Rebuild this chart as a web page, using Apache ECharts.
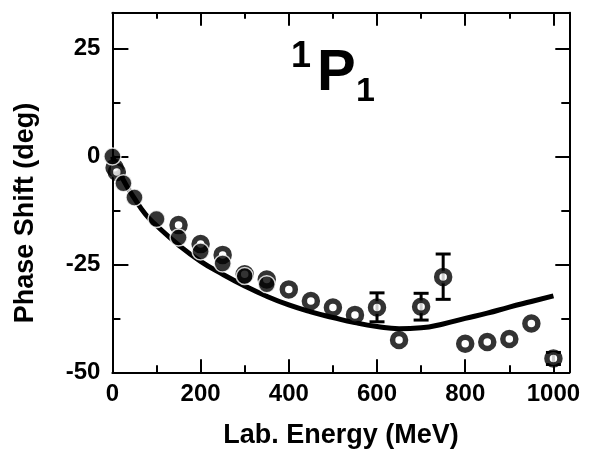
<!DOCTYPE html>
<html>
<head>
<meta charset="utf-8">
<script src="https://cdn.jsdelivr.net/npm/echarts@6/dist/echarts.min.js"></script>
<style>
html,body{margin:0;padding:0;background:#fff;}
#chart{width:591px;height:454px;}
</style>
</head>
<body>
<div id="chart"></div>
<script>
// ---- data ----
var xTickLabels = ['0','200','400','600','800','1000'];
var yTickLabels = ['-50','-25','0','25'];

// theory curve
var curveX = [0, 25, 50, 75, 100, 150, 200, 250, 300, 350, 400, 450, 500, 550, 600, 650, 700, 750, 800, 850, 900, 950, 1000];
var curveY = [0, -5.5, -9.7, -13.4, -16, -20.5, -24.3, -27.3, -30, -32.4, -34.4, -36, -37.3, -38.5, -39.4, -39.9, -39.7, -38.8, -37.5, -36.3, -34.9, -33.6, -32.3];

// filled circles
var filledX = [0, 25, 50, 100, 150, 200, 250, 300, 350];
var filledY = [0, -6.2, -9.5, -14.5, -18.8, -22, -24.8, -27.7, -29.6];

// open circles
var openX = [5, 10, 150, 200, 250, 300, 350, 400, 450, 500, 550, 600, 650, 700, 750, 800, 850, 900, 950, 1000];
var openY = [-2.6, -3.6, -15.9, -20.3, -22.8, -27.3, -28.5, -30.8, -33.5, -35, -36.7, -35, -42.5, -34.8, -27.9, -43.4, -43, -42.3, -38.7, -46.8];

// error bars on open circles
var errX = [600, 700, 750, 1000];
var errLow = [-38.3, -37.9, -33.1, -48.2];
var errHigh = [-31.6, -31.7, -22.6, -45.4];

var FONT = '"Liberation Sans", Arial, Helvetica, sans-serif';

function zip(a, b) { return a.map(function (v, i) { return [v, b[i]]; }); }

var chart = echarts.init(document.getElementById('chart'), null, {renderer: 'canvas'});

var tickCommon = {color: '#000', width: 2};
var labelStyle = {color: '#000', fontSize: 24, fontWeight: 'bold', fontFamily: FONT};

var option = {
  backgroundColor: '#fff',
  animation: false,
  grid: {left: 112.4, right: 21.7, top: 12.7, bottom: 81.7, containLabel: false},
  xAxis: [{
    type: 'value', position: 'bottom', min: 0, max: 1036, interval: 200,
    axisLine: {show: true, onZero: false, lineStyle: tickCommon},
    axisTick: {show: true, inside: true, length: 13, lineStyle: tickCommon},
    minorTick: {show: true, splitNumber: 2, length: 7, lineStyle: tickCommon},
    splitLine: {show: false},
    axisLabel: Object.assign({margin: 10, showMaxLabel: false,
      formatter: function (v) { var s = String(v); return xTickLabels.indexOf(s) >= 0 ? s : ''; }}, labelStyle)
  }, {
    type: 'value', position: 'top', min: 0, max: 1036, interval: 200,
    axisLine: {show: true, onZero: false, lineStyle: tickCommon},
    axisTick: {show: true, inside: true, length: 13, lineStyle: tickCommon},
    minorTick: {show: true, splitNumber: 2, length: 6, lineStyle: tickCommon},
    splitLine: {show: false},
    axisLabel: {show: false}
  }],
  yAxis: [{
    type: 'value', position: 'left', min: -50, max: 33.3, interval: 25,
    axisLine: {show: true, onZero: false, lineStyle: tickCommon},
    axisTick: {show: true, inside: true, length: 16, lineStyle: tickCommon},
    minorTick: {show: true, splitNumber: 2, length: 8, lineStyle: tickCommon},
    splitLine: {show: false},
    axisLabel: Object.assign({margin: 12, showMaxLabel: false,
      formatter: function (v) { var s = String(v); return yTickLabels.indexOf(s) >= 0 ? s : ''; }}, labelStyle)
  }, {
    type: 'value', position: 'right', min: -50, max: 33.3, interval: 25,
    axisLine: {show: true, onZero: false, lineStyle: tickCommon},
    axisTick: {show: true, inside: true, length: 14, lineStyle: tickCommon},
    minorTick: {show: true, splitNumber: 2, length: 8, lineStyle: tickCommon},
    splitLine: {show: false},
    axisLabel: {show: false}
  }],
  graphic: [
    {type: 'text', x: 26, y: 213, rotation: Math.PI / 2, z: 10,
     style: {text: 'Phase Shift (deg)', fill: '#000', font: 'bold 27px ' + FONT, textAlign: 'center', textVerticalAlign: 'middle'}},
    {type: 'text', x: 341, y: 436, z: 10,
     style: {text: 'Lab. Energy (MeV)', fill: '#000', font: 'bold 27px ' + FONT, textAlign: 'center', textVerticalAlign: 'middle'}},
    {type: 'text', x: 291, y: 57, z: 10,
     style: {text: '1', fill: '#000', font: 'bold 36px ' + FONT, textAlign: 'left', textVerticalAlign: 'middle'}},
    {type: 'text', x: 317, y: 74, z: 10,
     style: {text: 'P', fill: '#000', font: 'bold 58px ' + FONT, textAlign: 'left', textVerticalAlign: 'middle'}},
    {type: 'text', x: 356, y: 92, z: 10,
     style: {text: '1', fill: '#000', font: 'bold 34px ' + FONT, textAlign: 'left', textVerticalAlign: 'middle'}}
  ],
  series: [{
    name: 'theory', type: 'line', xAxisIndex: 0, yAxisIndex: 0,
    data: zip(curveX, curveY), smooth: true, symbol: 'none', z: 1,
    lineStyle: {color: '#000', width: 5}
  }, {
    name: 'errors', type: 'custom', xAxisIndex: 0, yAxisIndex: 0, z: 2,
    data: errX.map(function (x, i) { return [x, errLow[i], errHigh[i]]; }),
    renderItem: function (params, api) {
      var lo = api.coord([api.value(0), api.value(1)]);
      var hi = api.coord([api.value(0), api.value(2)]);
      var hw = 7.5;
      var st = {stroke: '#000', lineWidth: 3};
      return {type: 'group', children: [
        {type: 'line', shape: {x1: lo[0], y1: lo[1], x2: hi[0], y2: hi[1]}, style: st},
        {type: 'line', shape: {x1: lo[0] - hw, y1: lo[1], x2: lo[0] + hw, y2: lo[1]}, style: st},
        {type: 'line', shape: {x1: hi[0] - hw, y1: hi[1], x2: hi[0] + hw, y2: hi[1]}, style: st}
      ]};
    }
  }, {
    name: 'open', type: 'scatter', xAxisIndex: 0, yAxisIndex: 0, z: 3,
    data: zip(openX, openY), symbol: 'circle', symbolSize: 13,
    itemStyle: {color: '#fff', borderColor: '#000', borderWidth: 5.5}
  }, {
    name: 'filled', type: 'scatter', xAxisIndex: 0, yAxisIndex: 0, z: 4,
    data: zip(filledX, filledY), symbol: 'circle', symbolSize: 17,
    itemStyle: {color: '#000', borderColor: '#fff', borderWidth: 1.5}
  }]
};

chart.setOption(option);
</script>
</body>
</html>
